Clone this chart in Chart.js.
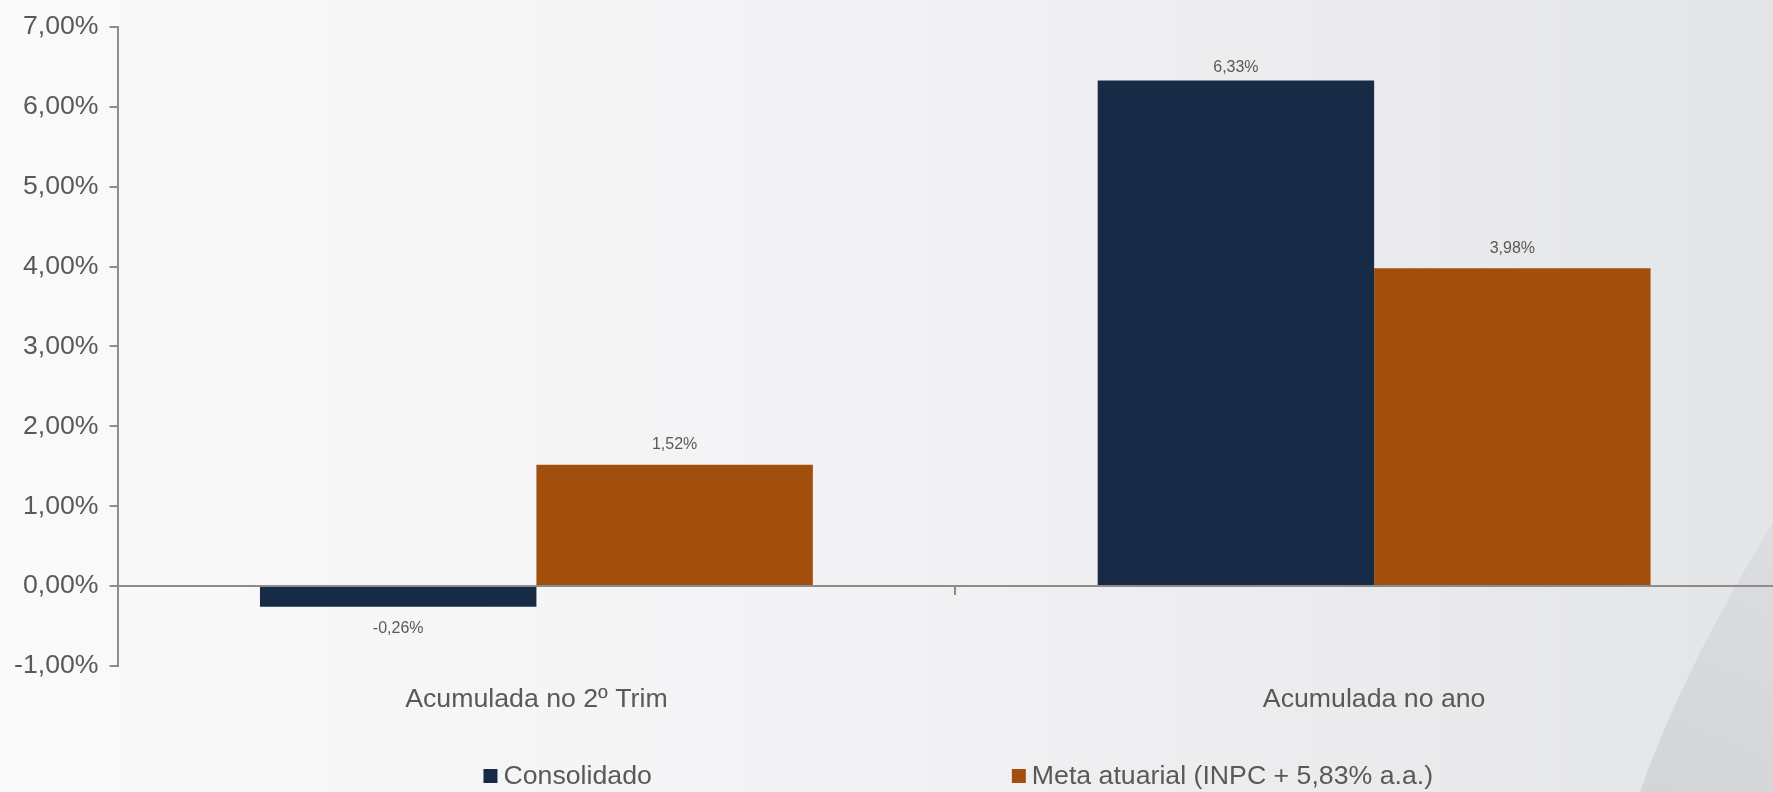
<!DOCTYPE html>
<html>
<head>
<meta charset="utf-8">
<script src="https://cdn.jsdelivr.net/npm/chart.js@4/dist/chart.umd.min.js"></script>
<style>
  html, body { margin: 0; padding: 0; overflow: hidden; background: #f4f4f6; }
  #wrap { position: relative; width: 1800px; height: 792px; }
</style>
</head>
<body>
<div id="wrap"><canvas id="rentChart"></canvas></div>
<script>
const categories = ['Acumulada no 2º Trim', 'Acumulada no ano'];
const seriesNames = ['Consolidado', 'Meta atuarial (INPC + 5,83% a.a.)'];
const consolidado = [-0.26, 6.33];
const metaAtuarial = [1.52, 3.98];
const yMin = -1, yMax = 7, yStep = 1;

const navy = '#172b47';
const rust = '#a24f0d';
const axisGray = '#8c8c8c';
const textGray = '#595959';
const FONT = "'Liberation Sans', Arial, sans-serif";
const BIG = 26.7;

const pct = v => v.toFixed(2).replace('.', ',') + '%';

// slide-style background: light horizontal gradient plus the grey swoosh bottom right
const backdrop = {
  id: 'backdrop',
  beforeDraw(chart) {
    const { ctx, width, height } = chart;
    ctx.save();
    const g = ctx.createLinearGradient(0, 0, 1773, 0);
    g.addColorStop(0, '#fafafb');
    g.addColorStop(0.5, '#f2f2f4');
    g.addColorStop(1, '#e4e5e7');
    ctx.fillStyle = g;
    ctx.fillRect(0, 0, width, height);

    const s = ctx.createLinearGradient(1773, 500, 1650, 792);
    s.addColorStop(0, '#dddee1');
    s.addColorStop(1, '#d4d5d8');
    ctx.fillStyle = s;
    ctx.beginPath();
    ctx.moveTo(1800, 480);
    ctx.quadraticCurveTo(1690, 650, 1640, 792);
    ctx.lineTo(1800, 792);
    ctx.closePath();
    ctx.fill();
    ctx.restore();
  }
};

// value labels outside the bar ends
const valueLabels = {
  id: 'valueLabels',
  afterDatasetsDraw(chart) {
    const { ctx, chartArea } = chart;
    ctx.save();
    ctx.font = '16px ' + FONT;
    ctx.fillStyle = textGray;
    ctx.textAlign = 'center';
    ctx.textBaseline = 'middle';
    chart.data.datasets.forEach((ds, di) => {
      chart.getDatasetMeta(di).data.forEach((bar, i) => {
        const v = ds.data[i];
        const y = v >= 0 ? Math.max(bar.y - 20, chartArea.top + 41) : bar.y + 22;
        ctx.fillText(pct(v), bar.x, y);
      });
    });
    ctx.restore();
  }
};

// legend centred under the plot area
const bottomLegend = {
  id: 'bottomLegend',
  afterDraw(chart) {
    const { ctx, chartArea } = chart;
    const box = 14, textGap = 6, itemGap = 360, y = 776;
    ctx.save();
    ctx.font = BIG + 'px ' + FONT;
    ctx.textBaseline = 'middle';
    const widths = chart.data.datasets.map(ds => box + textGap + ctx.measureText(ds.label).width);
    const total = widths.reduce((a, b) => a + b, 0) + itemGap * (widths.length - 1);
    let x = (chartArea.left + chartArea.right) / 2 + 3 - total / 2;
    chart.data.datasets.forEach((ds, i) => {
      ctx.fillStyle = ds.backgroundColor;
      ctx.fillRect(x, y - box / 2, box, box);
      ctx.fillStyle = textGray;
      ctx.fillText(ds.label, x + box + textGap, y + 1);
      x += widths[i] + itemGap;
    });
    ctx.restore();
  }
};

new Chart(document.getElementById('rentChart'), {
  type: 'bar',
  data: {
    labels: categories,
    datasets: [
      { label: seriesNames[0], data: consolidado, backgroundColor: navy, borderWidth: 0 },
      { label: seriesNames[1], data: metaAtuarial, backgroundColor: rust, borderWidth: 0 }
    ]
  },
  options: {
    responsive: true,
    maintainAspectRatio: false,
    animation: false,
    categoryPercentage: 0.66,
    barPercentage: 1.0,
    layout: { padding: { left: 3, right: 7, top: 10, bottom: 66 } },
    scales: {
      x: {
        grid: { display: false },
        border: { display: false },
        ticks: { color: textGray, padding: 10, font: { family: FONT, size: BIG } }
      },
      // horizontal axis line crossing at zero, with category tick marks
      x2: {
        type: 'category',
        position: { y: 0 },
        offset: true,
        z: 1,
        grid: { offset: true, drawOnChartArea: false, drawTicks: true, tickLength: 8, color: axisGray, lineWidth: 2 },
        border: { display: true, color: axisGray, width: 2 },
        ticks: { display: false }
      },
      y: {
        min: yMin,
        max: yMax,
        ticks: {
          stepSize: yStep,
          color: textGray,
          padding: 11,
          font: { family: FONT, size: BIG },
          callback: v => pct(v)
        },
        grid: { drawOnChartArea: false, drawTicks: true, tickLength: 8, color: axisGray, lineWidth: 2 },
        border: { display: true, color: axisGray, width: 2 }
      }
    },
    plugins: {
      legend: { display: false },
      tooltip: { enabled: false }
    }
  },
  plugins: [backdrop, valueLabels, bottomLegend]
});
</script>
</body>
</html>
